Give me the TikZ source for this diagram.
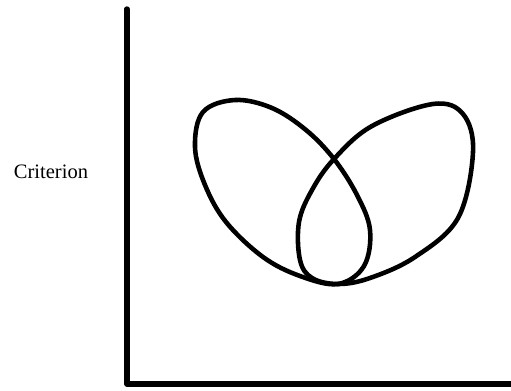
\documentclass[tikz,border=0pt]{standalone}
\usepackage{fontspec}
\setmainfont{Liberation Serif}
\usetikzlibrary{positioning}

\begin{document}
\begin{tikzpicture}[
    x=0.03cm, y=-0.03cm,
    every node/.style={font=\fontsize{17.5}{19}\selectfont},
    axis/.style={line width=4.6pt, line cap=round, line join=round},
    loop/.style={line width=3.9pt, line join=round},
  ]
    \useasboundingbox (0,0) rectangle (511,390);

    % Оси
    \coordinate (ytop) at (127,9);
    \coordinate (origin) at (127,384);
    \coordinate (xend) at (511,384);
    \draw[axis] (ytop) -- (origin) -- (xend);
    \node (crit) at (51,172) {Criterion};

    % Левая петля
    \draw[loop] plot[smooth cycle, tension=0.6] coordinates {
      (338,284) (300,276) (263,257) (226,222) (205,185) (195,147)
      (203,112) (235,100) (272,108) (306,130) (334,159) (357,195)
      (370,230) (364,266)};

    % Правая петля
    \draw[loop] plot[smooth cycle, tension=0.6] coordinates {
      (338,284) (312,278) (300,260) (299,222) (312,190) (334,159)
      (372,126) (433,104) (463,114) (473,152) (458,218) (415,257)
      (370,278)};
  \end{tikzpicture}
\end{document}
